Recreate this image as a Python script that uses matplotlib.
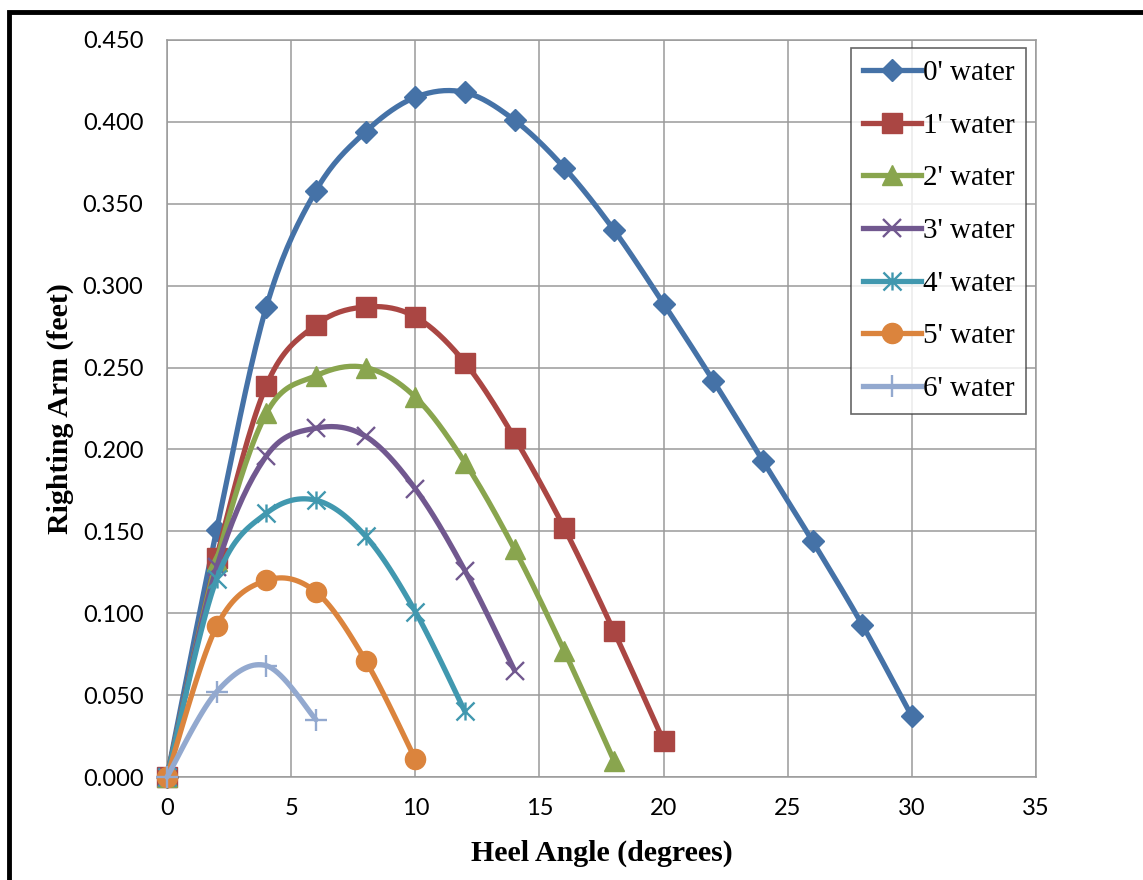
import matplotlib.pyplot as plt
import numpy as np
from matplotlib.path import Path
from matplotlib.patches import Rectangle

# values
heel_0 = [0, 2, 4, 6, 8, 10, 12, 14, 16, 18, 20, 22, 24, 26, 28, 30]
arm_0 = [0.000, 0.151, 0.287, 0.358, 0.394, 0.415, 0.418, 0.401, 0.372, 0.334,
         0.289, 0.242, 0.193, 0.144, 0.093, 0.037]
heel_1 = [0, 2, 4, 6, 8, 10, 12, 14, 16, 18, 20]
arm_1 = [0.000, 0.134, 0.239, 0.276, 0.287, 0.281, 0.253, 0.207, 0.152, 0.089, 0.022]
heel_2 = [0, 2, 4, 6, 8, 10, 12, 14, 16, 18]
arm_2 = [0.000, 0.132, 0.222, 0.245, 0.250, 0.232, 0.192, 0.139, 0.077, 0.010]
heel_3 = [0, 2, 4, 6, 8, 10, 12, 14]
arm_3 = [0.000, 0.128, 0.196, 0.213, 0.208, 0.176, 0.126, 0.065]
heel_4 = [0, 2, 4, 6, 8, 10, 12]
arm_4 = [0.000, 0.121, 0.161, 0.169, 0.147, 0.101, 0.040]
heel_5 = [0, 2, 4, 6, 8, 10]
arm_5 = [0.000, 0.092, 0.120, 0.113, 0.071, 0.011]
heel_6 = [0, 2, 4, 6]
arm_6 = [0.000, 0.052, 0.068, 0.035]

labels = ["0' water", "1' water", "2' water", "3' water",
          "4' water", "5' water", "6' water"]
colors = ['#4572A7', '#AA4643', '#89A54E', '#71588F',
          '#4198AF', '#DB843D', '#93A9CF']

# asterisk marker like excel's star
star = Path([(-1, -1), (1, 1), (-1, 1), (1, -1), (0, -1), (0, 1)],
            [Path.MOVETO, Path.LINETO, Path.MOVETO, Path.LINETO,
             Path.MOVETO, Path.LINETO])

styles = [dict(marker='D', ms=11.5),
          dict(marker='s', ms=14),
          dict(marker='^', ms=14),
          dict(marker='x', ms=13, mew=1.7),
          dict(marker=star, ms=13, mew=1.7),
          dict(marker='o', ms=14.5),
          dict(marker='+', ms=16, mew=1.7)]


def smooth(x, y, n=20):
    # bezier smoothing the way excel draws "smoothed line"
    p = np.column_stack([x, y]).astype(float)
    pts = np.vstack([p[0], p, p[-1]])
    out = [p[:1]]
    t = np.linspace(0, 1, n)[1:, None]
    for i in range(1, len(pts) - 2):
        p0, p3 = pts[i], pts[i + 1]
        c1 = p0 + (pts[i + 1] - pts[i - 1]) / 6
        c2 = p3 - (pts[i + 2] - pts[i]) / 6
        seg = ((1 - t) ** 3 * p0 + 3 * (1 - t) ** 2 * t * c1
               + 3 * (1 - t) * t ** 2 * c2 + t ** 3 * p3)
        out.append(seg)
    out = np.vstack(out)
    return out[:, 0], out[:, 1]


fig = plt.figure(figsize=(11.43, 8.8), dpi=100)
ax = fig.add_axes([167 / 1143, 1 - 777 / 880, (1036 - 167) / 1143, (777 - 40) / 880])

series = [(heel_0, arm_0), (heel_1, arm_1), (heel_2, arm_2), (heel_3, arm_3),
          (heel_4, arm_4), (heel_5, arm_5), (heel_6, arm_6)]
for k, (hx, hy) in enumerate(series):
    sx, sy = smooth(hx, hy)
    ax.plot(sx, sy, color=colors[k], lw=3.8, solid_capstyle='round',
            zorder=3 + k, clip_on=False)
    ax.plot(hx, hy, ls='none', color=colors[k], mec=colors[k],
            zorder=3 + k, clip_on=False, **styles[k])
    # proxy for legend
    ax.plot([], [], color=colors[k], lw=3.8, label=labels[k], **styles[k])

ax.set_xlim(0, 35)
ax.set_ylim(0, 0.45)
ax.set_xticks(np.arange(0, 36, 5))
ax.set_yticks(np.arange(0, 0.451, 0.05))
ax.set_yticklabels(['%.3f' % v for v in np.arange(0, 0.451, 0.05)])
ax.grid(True, color='#9a9a9a', lw=1.1)
ax.set_axisbelow(True)
for s in ax.spines.values():
    s.set_color('#9a9a9a')
    s.set_linewidth(1.1)
ax.tick_params(axis='y', length=0, labelsize=17, pad=17)
ax.tick_params(axis='x', length=0, labelsize=17, pad=15)
for lab in ax.get_xticklabels() + ax.get_yticklabels():
    lab.set_fontfamily('Lato')

ax.set_xlabel('Heel Angle (degrees)', fontsize=21.5, fontweight='bold',
              fontfamily='Liberation Serif', labelpad=15)
ax.set_ylabel('Righting Arm (feet)', fontsize=21.5, fontweight='bold',
              fontfamily='Liberation Serif', labelpad=6)

leg = ax.legend(loc='upper right', bbox_to_anchor=(1026 / 1143, 1 - 48 / 880),
                bbox_transform=fig.transFigure,
                prop={'family': 'Liberation Serif', 'size': 21},
                frameon=True, fancybox=False, edgecolor='#404040',
                handlelength=2.0, handletextpad=0.05, labelspacing=0.9,
                borderpad=0.4, borderaxespad=0, numpoints=1)
leg.get_frame().set_linewidth(1.2)

# black frame round the whole picture
fig.patches.append(Rectangle((9 / 1143, -0.1), 1.2, 1 - 12 / 880 + 0.1,
                             transform=fig.transFigure, fill=False,
                             edgecolor='black', lw=3.5))

fig.savefig('out.png', dpi=100)
